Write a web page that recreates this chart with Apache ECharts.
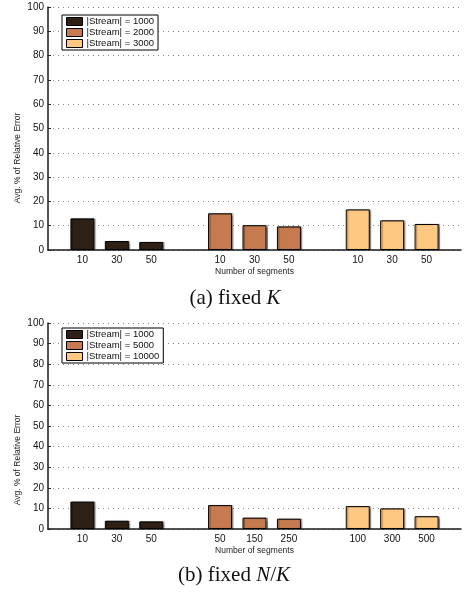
<!DOCTYPE html>
<html>
<head>
<meta charset="utf-8">
<script src="https://cdn.jsdelivr.net/npm/echarts@6/dist/echarts.min.js"></script>
<style>html,body{margin:0;padding:0;background:#fff}#c{width:464px;height:592px}</style>
</head>
<body>
<div id="c"></div>
<script>
// Categories (blank slots separate the groups)
var catsA = ['', '10', '30', '50', '', '10', '30', '50', '', '10', '30', '50', ''];
var catsB = ['', '10', '30', '50', '', '50', '150', '250', '', '100', '300', '500', ''];
var yTicks = [0, 10, 20, 30, 40, 50, 60, 70, 80, 90, 100];

var namesA = ['|Stream| = 1000', '|Stream| = 2000', '|Stream| = 3000'];
var namesB = ['|Stream| = 1000', '|Stream| = 5000', '|Stream| = 10000'];

// values per group (three segment counts each)
var a1 = [13.0, 3.7, 3.3];
var a2 = [15.1, 10.2, 9.7];
var a3 = [16.7, 12.2, 10.7];
var b1 = [13.3, 4.0, 3.7];
var b2 = [11.6, 5.5, 5.0];
var b3 = [11.1, 10.0, 6.2];

var colors = ['#2f2016', '#c57b4f', '#ffc882'];

function place(vals, start) {
  var arr = [];
  for (var i = 0; i < 13; i++) arr.push('-');
  for (var j = 0; j < vals.length; j++) arr[start + j] = vals[j];
  return arr;
}

var grids = [
  {left: 48, right: 2, top: 7, height: 243},
  {left: 48, right: 2, top: 323, height: 206}
];

function xAx(idx, cats) {
  return {
    type: 'category', gridIndex: idx, data: cats, boundaryGap: false,
    axisLine: {lineStyle: {color: '#1a1a1a', width: 1.5}},
    axisTick: {show: false},
    axisLabel: {color: '#111', fontSize: 10, fontFamily: 'Liberation Sans', margin: 5, interval: 0},
    splitLine: {show: false},
    name: 'Number of segments', nameLocation: 'middle', nameGap: 17,
    nameTextStyle: {fontSize: 8.5, fontFamily: 'Liberation Sans', color: '#222'}
  };
}
function yAx(idx) {
  return {
    type: 'value', gridIndex: idx, min: 0, max: 100, interval: 10,
    axisLine: {show: true, lineStyle: {color: '#1a1a1a', width: 1.5}},
    axisTick: {show: true, inside: true, length: 3, lineStyle: {color: '#222'}},
    axisLabel: {color: '#111', fontSize: 10, fontFamily: 'Liberation Sans', margin: 4},
    splitLine: {show: true, lineStyle: {color: '#888', type: [1, 4], width: 1}}
  };
}

function bar(name, data, xi, ci) {
  return {
    type: 'bar', name: name, xAxisIndex: xi, yAxisIndex: xi, data: data,
    barWidth: 24, barGap: '-100%',
    itemStyle: {color: colors[ci], borderColor: '#000', borderWidth: 1,
      shadowColor: 'rgba(0,0,0,0.35)', shadowOffsetX: 1.5, shadowOffsetY: 0, shadowBlur: 1},
    emphasis: {disabled: true}
  };
}

var series = [
  bar(namesA[0], place(a1, 1), 0, 0),
  bar(namesA[1], place(a2, 5), 0, 1),
  bar(namesA[2], place(a3, 9), 0, 2),
  bar(namesB[0], place(b1, 1), 1, 0),
  bar(namesB[1], place(b2, 5), 1, 1),
  bar(namesB[2], place(b3, 9), 1, 2)
];

function leg(top, names) {
  return {
    data: names, orient: 'vertical', left: 62, top: top,
    icon: 'rect',
    itemWidth: 16, itemHeight: 8, itemGap: 0,
    padding: [1, 4, 1, 4],
    borderColor: '#000', borderWidth: 1, backgroundColor: '#fff',
    textStyle: {fontSize: 9.5, lineHeight: 11, fontFamily: 'Liberation Sans', color: '#111', padding: [0, 0, 0, -1]},
    itemStyle: {borderColor: '#000', borderWidth: 1}
  };
}

var capRich = {
  n: {fontSize: 21, fontFamily: 'Liberation Serif', fill: '#111'},
  i: {fontSize: 21, fontFamily: 'Liberation Serif', fontStyle: 'italic', fill: '#111'}
};

var chart = echarts.init(document.getElementById('c'), null, {renderer: 'canvas'});
chart.setOption({
  animation: false,
  grid: grids,
  xAxis: [xAx(0, catsA), xAx(1, catsB)],
  yAxis: [yAx(0), yAx(1)],
  legend: [leg(15, namesA), leg(328, namesB)],
  series: series,
  graphic: [
    {type: 'text', x: 18, y: 158, rotation: Math.PI / 2, style: {text: 'Avg. % of Relative Error', fontSize: 8.5, fontFamily: 'Liberation Sans', fill: '#222', align: 'center', verticalAlign: 'middle'}},
    {type: 'text', x: 18, y: 460, rotation: Math.PI / 2, style: {text: 'Avg. % of Relative Error', fontSize: 8.5, fontFamily: 'Liberation Sans', fill: '#222', align: 'center', verticalAlign: 'middle'}},
    {type: 'text', x: 235, y: 298, style: {rich: capRich, text: '{n|(a) fixed }{i|K}', align: 'center', verticalAlign: 'middle'}},
    {type: 'text', x: 234, y: 575, style: {rich: capRich, text: '{n|(b) fixed }{i|N}{n|/}{i|K}', align: 'center', verticalAlign: 'middle'}}
  ]
});
</script>
</body>
</html>
